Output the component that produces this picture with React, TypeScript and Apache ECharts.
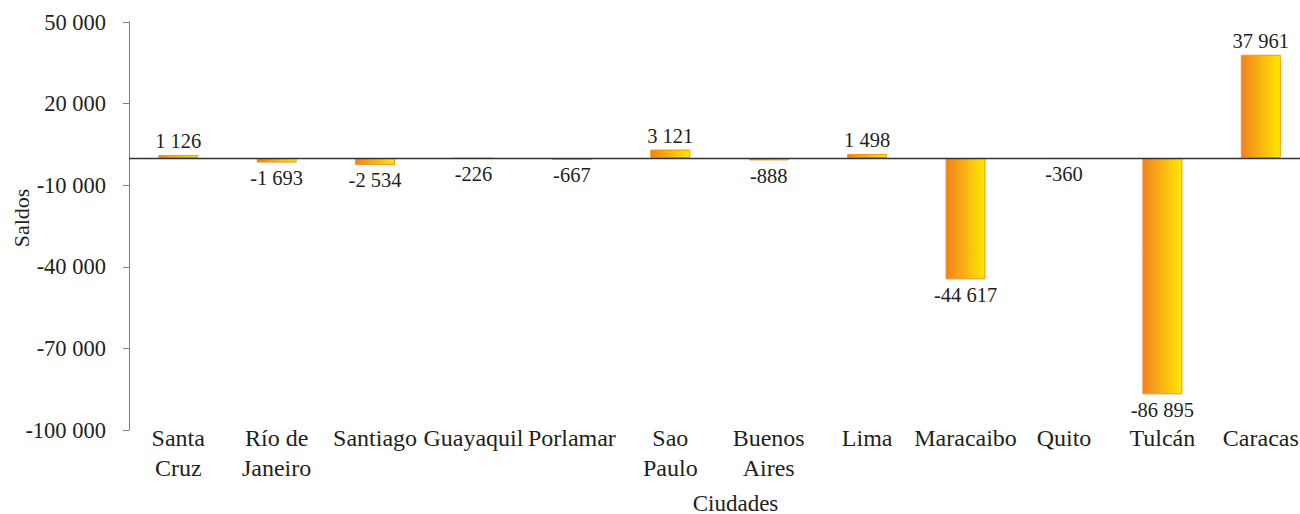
import React, { useEffect, useRef } from "react";
import * as echarts from "echarts";

const categories = [
  "Santa\nCruz",
  "Río de\nJaneiro",
  "Santiago",
  "Guayaquil",
  "Porlamar",
  "Sao\nPaulo",
  "Buenos\nAires",
  "Lima",
  "Maracaibo",
  "Quito",
  "Tulcán",
  "Caracas",
];
const saldos = [1126, -1693, -2534, -226, -667, 3121, -888, 1498, -44617, -360, -86895, 37961];
const yTicks = [-100000, -70000, -40000, -10000, 20000, 50000];

const FONT = "Liberation Serif";
const TEXT = "#231f20";

function fmt(v: number): string {
  const s = Math.abs(v).toString().replace(/\B(?=(\d{3})+(?!\d))/g, " ");
  return (v < 0 ? "-" : "") + s;
}

export default function App() {
  const ref = useRef<HTMLDivElement>(null);
  useEffect(() => {
    document.body.style.margin = "0";
    const chart = echarts.init(ref.current!, null, { renderer: "svg" });
    const barColor = new echarts.graphic.LinearGradient(0, 0, 1, 0, [
      { offset: 0, color: "#F2821F" },
      { offset: 1, color: "#FFE800" },
    ]);
    chart.setOption({
      animation: false,
      grid: {
        left: 129,
        right: -10,
        top: 22,
        bottom: 84,
        containLabel: false,
        outerBoundsMode: "none",
      },
      xAxis: {
        type: "category",
        data: categories,
        name: "Ciudades",
        nameLocation: "middle",
        nameGap: 63,
        nameMoveOverlap: false,
        nameTextStyle: {
          fontFamily: FONT,
          fontSize: 23,
          lineHeight: 20,
          color: TEXT,
          padding: [0, 0, 0, 32],
        },
        axisLine: { show: false, onZero: false },
        axisTick: { show: false },
        axisLabel: {
          interval: 0,
          margin: -7,
          fontFamily: FONT,
          fontSize: 24,
          color: TEXT,
          lineHeight: 30,
        },
        splitLine: { show: false },
      },
      yAxis: {
        type: "value",
        min: -100000,
        max: 50000,
        name: "Saldos",
        nameLocation: "middle",
        nameGap: 97,
        nameMoveOverlap: false,
        nameTextStyle: { fontFamily: FONT, fontSize: 22, color: TEXT, padding: [0, 0, 0, 16] },
        axisLine: { show: true, lineStyle: { color: "#808080", width: 1 } },
        axisTick: { show: true, length: 6, customValues: yTicks, lineStyle: { color: "#808080" } },
        axisLabel: {
          customValues: yTicks,
          margin: 23,
          fontFamily: FONT,
          fontSize: 22.5,
          color: TEXT,
          formatter: (v: number) => fmt(v),
        },
        splitLine: { show: false },
      },
      series: [
        {
          type: "bar",
          barWidth: 40,
          data: saldos.map((v) => ({
            value: v,
            label: { position: v >= 0 ? "top" : "bottom", distance: v >= 0 ? 3 : 5 },
          })),
          itemStyle: { color: barColor, borderColor: "#F7931E", borderWidth: 1 },
          label: {
            show: true,
            fontFamily: FONT,
            fontSize: 20.5,
            color: TEXT,
            formatter: (p: any) => fmt(p.value),
          },
          markLine: {
            silent: true,
            symbol: "none",
            label: { show: false },
            lineStyle: { color: "#333333", width: 1.3, type: "solid" },
            data: [{ yAxis: 0 }],
          },
        },
      ],
    });
    return () => chart.dispose();
  }, []);
  return (
    <div
      ref={ref}
      style={{ position: "fixed", left: 0, top: 0, width: 1300, height: 514, background: "#fff" }}
    />
  );
}
